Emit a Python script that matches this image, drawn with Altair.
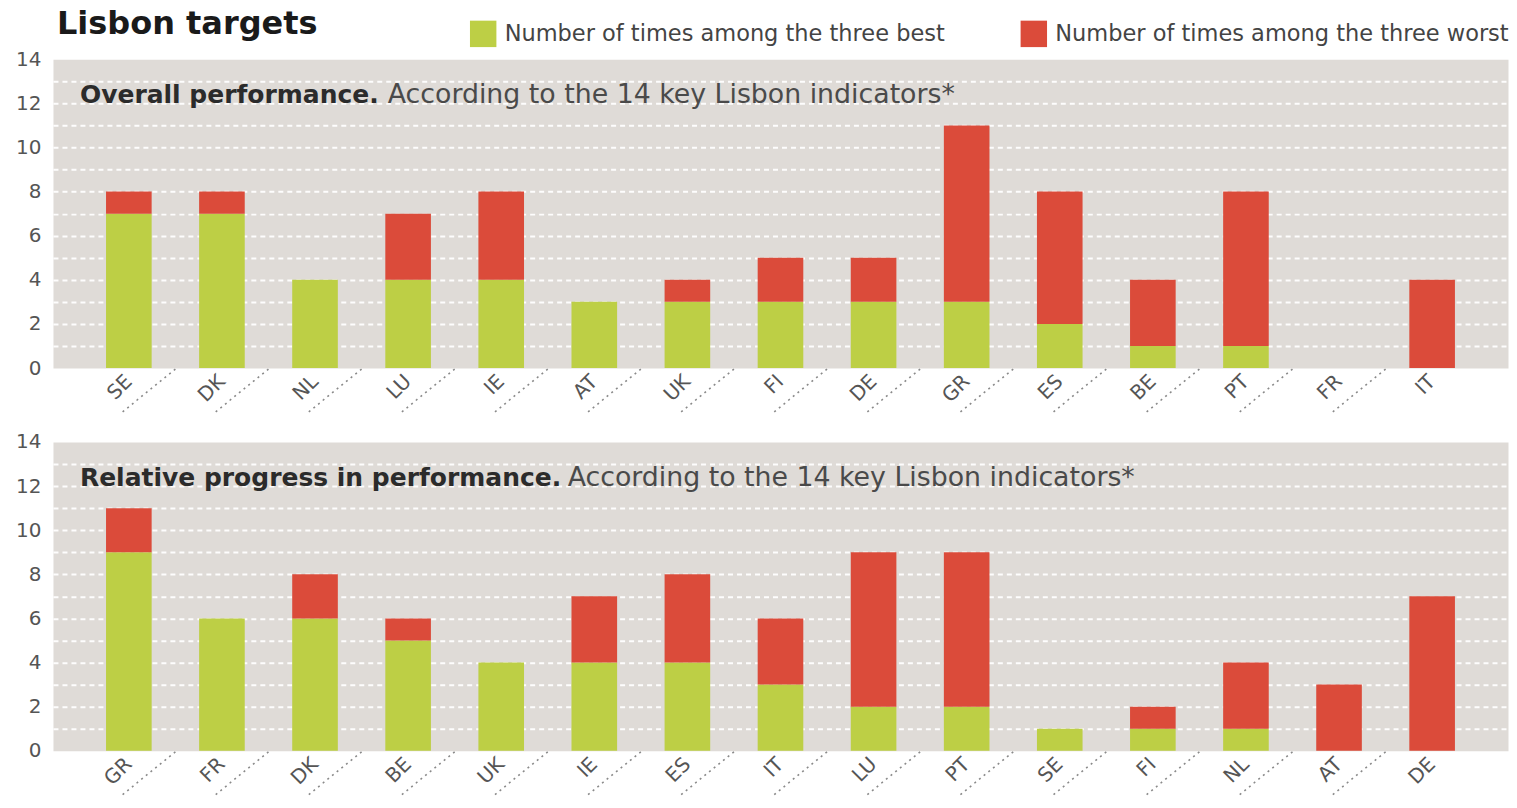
import altair as alt
import pandas as pd

# ---- data -------------------------------------------------------------
top_countries = ["SE", "DK", "NL", "LU", "IE", "AT", "UK", "FI", "DE", "GR", "ES", "BE", "PT", "FR", "IT"]
top_best = [7, 7, 4, 4, 4, 3, 3, 3, 3, 3, 2, 1, 1, 0, 0]
top_worst = [1, 1, 0, 3, 4, 0, 1, 2, 2, 8, 6, 3, 7, 0, 4]

bot_countries = ["GR", "FR", "DK", "BE", "UK", "IE", "ES", "IT", "LU", "PT", "SE", "FI", "NL", "AT", "DE"]
bot_best = [9, 6, 6, 5, 4, 4, 4, 3, 2, 2, 1, 1, 1, 0, 0]
bot_worst = [2, 0, 2, 1, 0, 3, 4, 3, 7, 7, 0, 1, 3, 3, 7]

series = ["Number of times among the three best", "Number of times among the three worst"]
colors = ["#bdcf45", "#db4b3a"]
y_ticks = list(range(0, 15))

title_text = "Lisbon targets"
top_bold = "Overall performance."
bot_bold = "Relative progress in performance."
regular_text = "According to the 14 key Lisbon indicators*"

# ---- layout constants --------------------------------------------------
W, H = 1456, 309
P_IN, P_OUT = 0.51, 0.57
STEP = W / (len(top_countries) - P_IN + 2 * P_OUT)
FONT = "DejaVu Sans"


def long_df(countries, best, worst):
    rows = []
    for i, c in enumerate(countries):
        rows.append({"country": c, "series": series[0], "value": best[i], "ord": 0})
        rows.append({"country": c, "series": series[1], "value": worst[i], "ord": 1})
    return pd.DataFrame(rows)


legend = alt.Legend(
    title=None, orient="none", legendX=417, legendY=-39, direction="horizontal",
    symbolType="square", symbolSize=700, symbolStrokeWidth=0, symbolOpacity=1,
    labelFontSize=22.5, labelFont=FONT, labelColor="#444444", labelLimit=800,
    columnPadding=75, labelOffset=8,
)


def panel(countries, best, worst, bold, regular_x, with_title):
    df = long_df(countries, best, worst)
    bars = alt.Chart(df).mark_bar().encode(
        x=alt.X(
            "country:N", sort=countries,
            scale=alt.Scale(paddingInner=P_IN, paddingOuter=P_OUT),
            axis=alt.Axis(
                title=None, labelAngle=-45, labelAlign="right", labelBaseline="middle",
                labelPadding=10, labelFontSize=20, labelFont=FONT, labelColor="#555555",
                domain=False, ticks=False, grid=False,
            ),
        ),
        y=alt.Y(
            "value:Q", stack="zero",
            scale=alt.Scale(domain=[0, 14], nice=False),
            axis=alt.Axis(
                title=None, values=y_ticks,
                labelExpr="datum.value % 2 == 0 ? datum.label : ''",
                labelFontSize=20, labelFont=FONT, labelColor="#555555", labelPadding=12,
                domain=False, ticks=False, grid=True, gridColor="#ffffff",
                gridDash=[5, 4], gridWidth=2,
                gridOpacity={"condition": {"test": "datum.value == 0 || datum.value == 14", "value": 0}, "value": 0.95},
                minExtent=45, maxExtent=45,
            ),
        ),
        color=alt.Color("series:N", scale=alt.Scale(domain=series, range=colors), legend=legend),
        order=alt.Order("ord:Q"),
    )

    sep = alt.Chart(pd.DataFrame({"country": countries[:-1]})).mark_rule(
        strokeDash=[2, 4], color="#8a8a8a", strokeWidth=1.6,
        xOffset=STEP / 2, x2Offset=STEP / 2 - 53,
    ).encode(
        x=alt.X("country:N", sort=countries),
        x2=alt.X2("country"),
        y=alt.value(H + 1),
        y2=alt.value(H + 44),
    )

    t1 = alt.Chart(pd.DataFrame({"t": [bold]})).mark_text(
        align="left", baseline="alphabetic", font=FONT, fontWeight="bold",
        fontSize=25, color="#2b2b2b",
    ).encode(x=alt.value(27), y=alt.value(44), text="t:N")

    t2 = alt.Chart(pd.DataFrame({"t": [regular_text]})).mark_text(
        align="left", baseline="alphabetic", font=FONT, fontWeight="normal",
        fontSize=26.8, color="#4a4a4a",
    ).encode(x=alt.value(regular_x), y=alt.value(44), text="t:N")

    layers = [bars, sep, t1, t2]
    if with_title:
        tt = alt.Chart(pd.DataFrame({"t": [title_text]})).mark_text(
            align="left", baseline="alphabetic", font=FONT, fontWeight="bold",
            fontSize=32, color="#1a1a1a",
        ).encode(x=alt.value(4), y=alt.value(-25), text="t:N")
        layers.append(tt)
    return alt.layer(*layers).properties(width=W, height=H)


p1 = panel(top_countries, top_best, top_worst, top_bold, 335, True)
p2 = panel(bot_countries, bot_best, bot_worst, bot_bold, 515, False)

chart = alt.vconcat(p1, p2, spacing=19).resolve_scale(x="independent", color="shared").properties(
    padding=0,
).configure_view(fill="#dfdbd7", strokeOpacity=0)

chart.save("out.html", embed_options={"renderer": "svg", "actions": False})
